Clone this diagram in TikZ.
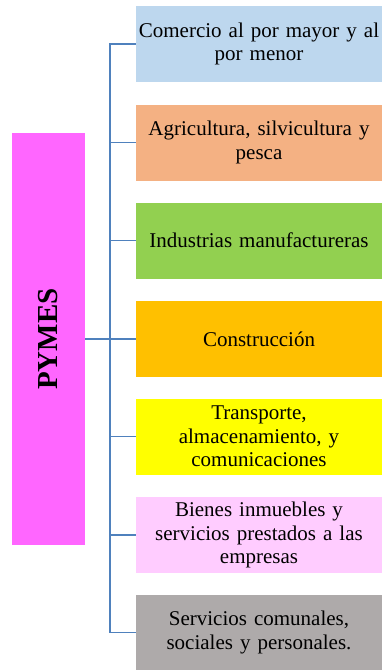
\documentclass[tikz,border=0pt]{standalone}
\usepackage{fontspec}
\setmainfont{Liberation Serif}
\usetikzlibrary{positioning}
\definecolor{pymes}{HTML}{FF66FF}
\definecolor{linea}{HTML}{4F81BD}
\definecolor{comercio}{HTML}{BDD7EE}
\definecolor{agro}{HTML}{F4B183}
\definecolor{industria}{HTML}{92D050}
\definecolor{constru}{HTML}{FFC000}
\definecolor{transp}{HTML}{FFFF00}
\definecolor{bienes}{HTML}{FFCCFF}
\definecolor{servic}{HTML}{AEAAAA}

\begin{document}
\begin{tikzpicture}[x=1pt,y=-1pt]
    \tikzstyle{every node}=[inner sep=0pt, outer sep=0pt];
    \tikzstyle{sector}=[minimum width=246pt, minimum height=76pt, text width=242pt, align=center, font=\fontsize{21}{23.5}\selectfont];
    \tikzstyle{rama}=[draw=linea, line width=1.8pt];
    \useasboundingbox (0,0) rectangle (383,670);
    % barra de la izquierda
    \node[fill=pymes, minimum width=73pt, minimum height=412pt] (pymes) at (48.5,339) {};
    \node[rotate=90, font=\fontsize{29}{30}\selectfont\bfseries] (titulo) at (pymes.center) {PYMES};
    % sectores
    \node[sector, fill=comercio] (s1) at (259,44) {Comercio al por mayor y al\\por menor};
    \node[sector, fill=agro] (s2) at (259,142.5) {Agricultura, silvicultura y\\pesca};
    \node[sector, fill=industria] (s3) at (259,240.5) {Industrias manufactureras};
    \node[sector, fill=constru] (s4) at (259,339) {Construcción};
    \node[sector, fill=transp] (s5) at (259,436.5) {Transporte,\\almacenamiento, y\\comunicaciones};
    \node[sector, fill=bienes] (s6) at (259,535) {Bienes inmuebles y\\servicios prestados a las\\empresas};
    \node[sector, fill=servic] (s7) at (259,632.5) {Servicios comunales,\\sociales y personales.};
    % conectores
    \coordinate (tronco) at (110,339);
    \draw[rama] (pymes.east) -- (tronco);
    \foreach \i in {1,...,7}
        \draw[rama] (tronco) |- (s\i.west);
\end{tikzpicture}
\end{document}
